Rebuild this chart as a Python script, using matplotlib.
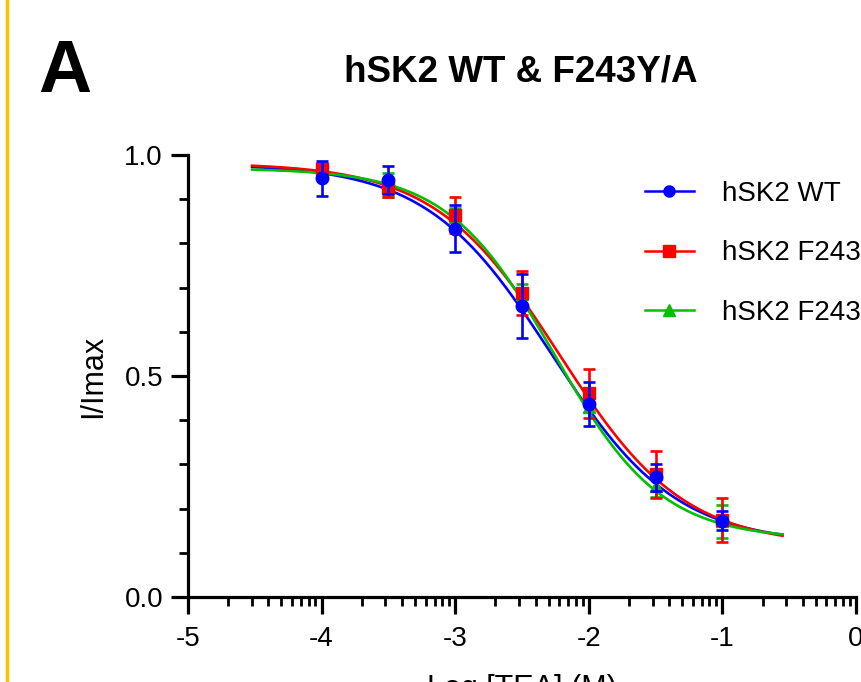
import matplotlib
matplotlib.use("Agg")
import matplotlib.pyplot as plt
import numpy as np
from matplotlib.lines import Line2D

plt.rcParams["font.family"] = ["Liberation Sans", "DejaVu Sans"]

# log [TEA] (M)
log_tea = [-4, -3.5, -3, -2.5, -2, -1.5, -1]

# mean I/Imax and SEM for each construct
wt_mean = [0.947, 0.943, 0.833, 0.658, 0.437, 0.271, 0.173]
wt_err = [0.040, 0.032, 0.053, 0.072, 0.050, 0.031, 0.021]
y_mean = [0.968, 0.926, 0.864, 0.688, 0.461, 0.278, 0.175]
y_err = [0.015, 0.020, 0.040, 0.050, 0.055, 0.053, 0.050]
a_mean = [0.960, 0.932, 0.860, 0.685, 0.430, 0.252, 0.171]
a_err = [0.015, 0.028, 0.020, 0.023, 0.012, 0.025, 0.038]

# Hill fit parameters (top, bottom, logIC50, slope)
wt_fit = [0.980, 0.120, -2.28, 0.93]
y_fit = [0.982, 0.115, -2.22, 0.93]
a_fit = [0.970, 0.130, -2.26, 1.08]

labels = ["hSK2 WT", "hSK2 F243Y", "hSK2 F243A"]
colors = ["#0000FF", "#FF0000", "#00C000"]
markers = ["o", "s", "^"]


def hill(x, p):
    top, bottom, ic50, h = p
    return bottom + (top - bottom) / (1 + 10 ** ((x - ic50) * h))


fig = plt.figure(figsize=(8.61, 6.82), dpi=100)
ax = fig.add_axes([188 / 861, 85 / 682, 668 / 861, 442 / 682])

xfit = np.linspace(-4.52, -0.55, 300)
series = [(wt_mean, wt_err, wt_fit), (y_mean, y_err, y_fit), (a_mean, a_err, a_fit)]
# draw green first, then red, then blue on top
for i in [2, 1, 0]:
    m, e, p = series[i]
    ax.plot(xfit, hill(xfit, p), color=colors[i], lw=1.9, zorder=2 + i * 0.1)
    ax.errorbar(log_tea, m, yerr=e, fmt=markers[i], color=colors[i], ms=9,
                capsize=4, elinewidth=1.9, capthick=1.9, zorder=3 + (2 - i))

ax.set_xlim(-5, 0)
ax.set_ylim(0, 1)
ax.set_xticks([-5, -4, -3, -2, -1, 0])
ax.set_xticklabels(["-5", "-4", "-3", "-2", "-1", "0"])
minor_x = [d + np.log10(k) for d in range(-5, 0) for k in range(2, 10)]
ax.set_xticks(minor_x, minor=True)
ax.set_yticks([0, 0.5, 1.0])
ax.set_yticklabels(["0.0", "0.5", "1.0"])
ax.set_yticks(np.arange(0.1, 1.0, 0.1), minor=True)

for s in ["top", "right"]:
    ax.spines[s].set_visible(False)
for s in ["left", "bottom"]:
    ax.spines[s].set_linewidth(2.3)
ax.tick_params(which="major", length=12, width=2.3, labelsize=20, color="black")
ax.tick_params(axis="x", which="major", pad=9)
ax.tick_params(axis="y", which="major", pad=6)
ax.tick_params(which="minor", length=6.5, width=2.0)

ax.set_ylabel("I/Imax", fontsize=22, labelpad=12)
ax.set_xlabel("Log [TEA] (M)", fontsize=22, labelpad=16)

fig.text(521 / 861, 1 - 72 / 682, "hSK2 WT & F243Y/A", ha="center", va="center",
         fontsize=26.5, fontweight="bold")
fig.text(38 / 861, 1 - 72 / 682, "A", ha="left", va="center", fontsize=53, fontweight="bold")

# yellow bar at left edge
fig.add_artist(Line2D([7 / 861, 7 / 861], [0, 1], color="#FFC000", lw=2.5))

handles = [Line2D([], [], color=colors[i], marker=markers[i], ms=8, lw=1.8) for i in range(3)]
ax.legend(handles, labels, loc="upper left", bbox_to_anchor=(634 / 861, 1 - 170 / 682),
          bbox_transform=fig.transFigure, frameon=False, fontsize=20, borderaxespad=0,
          handlelength=1.75, handletextpad=1.0, labelspacing=1.2)

fig.savefig("out.png", dpi=100)
